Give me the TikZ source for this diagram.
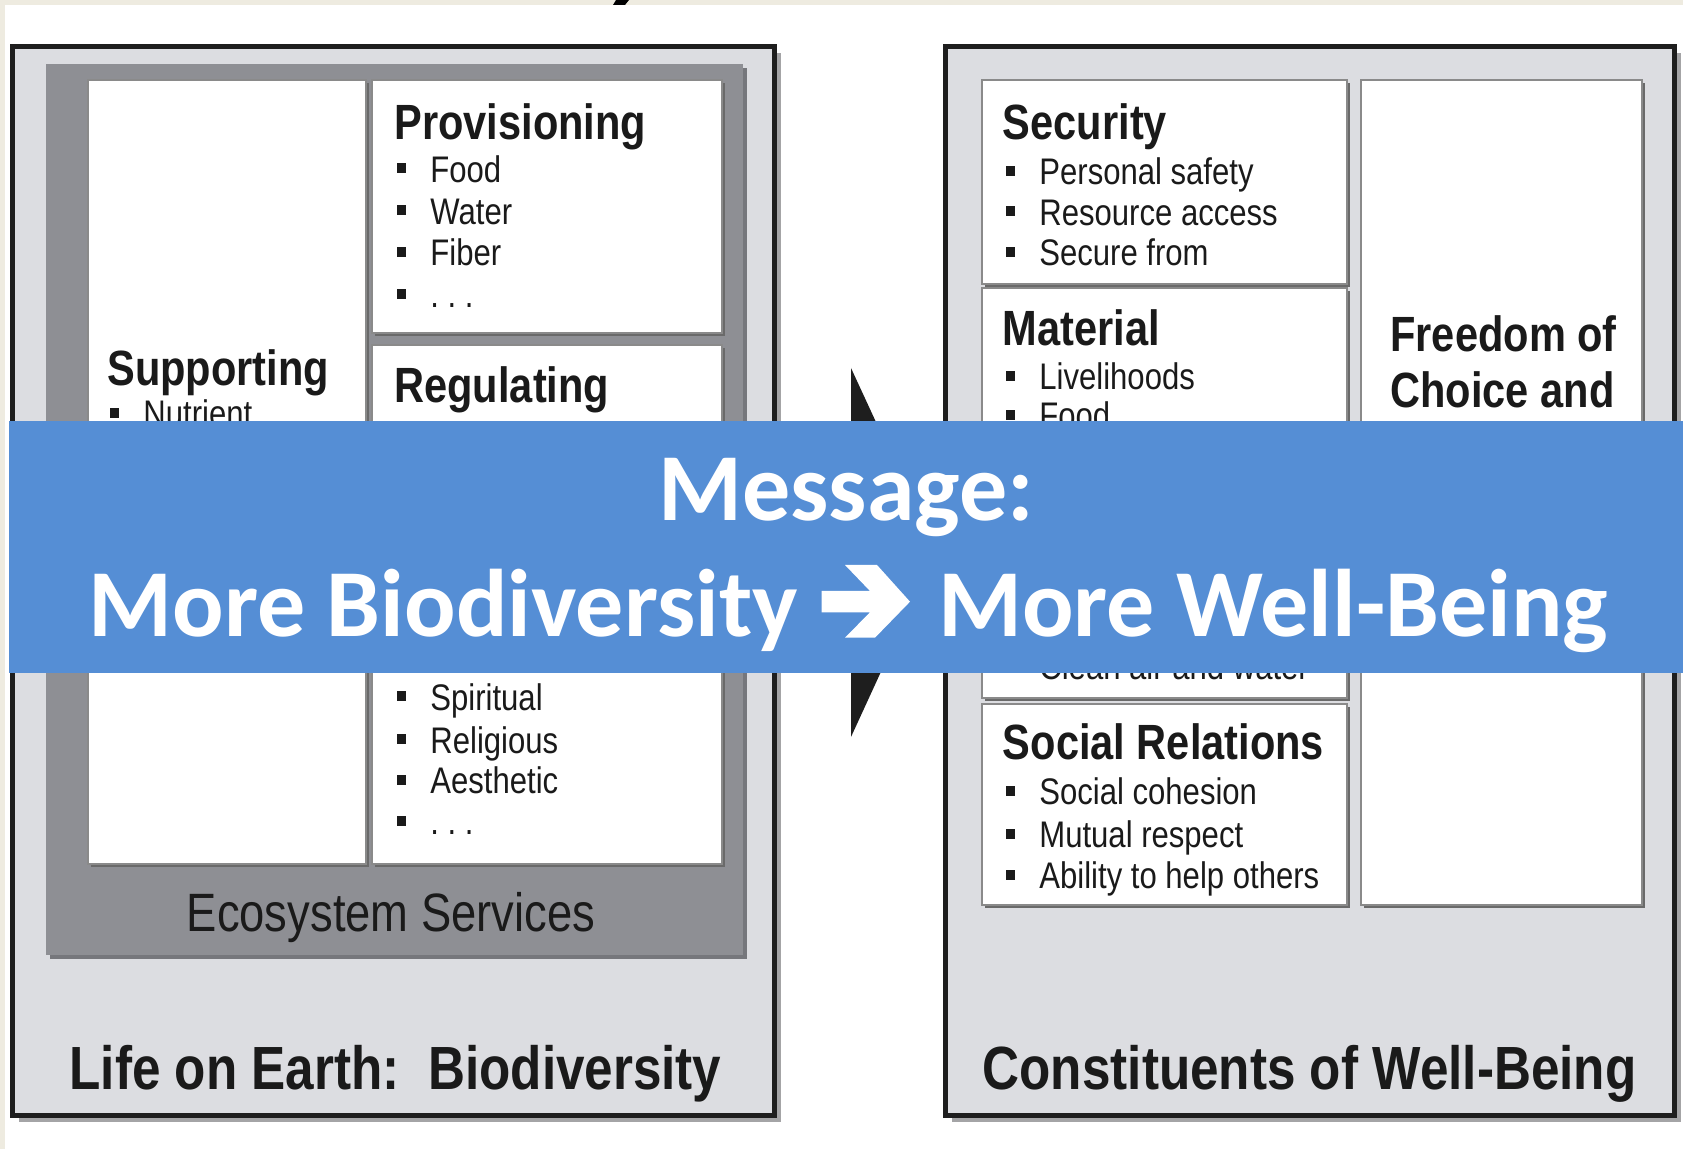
\documentclass[tikz,border=0pt]{standalone}
\usepackage{fontspec}
\setmainfont{Liberation Sans}[FakeStretch=0.84]
\newfontfamily\bannerfont{Carlito}
\definecolor{beige}{HTML}{EEEBE0}
\definecolor{panelc}{HTML}{DCDDE1}
\definecolor{ecoc}{HTML}{8E8F94}
\definecolor{ecoshadow}{HTML}{76777C}
\definecolor{framec}{HTML}{1E1E1E}
\definecolor{fshadow}{HTML}{A4A4A6}
\definecolor{boxline}{HTML}{8A8A8A}
\definecolor{boxshadow}{HTML}{6A6A6A}
\definecolor{txt}{HTML}{1A1A1A}
\definecolor{bannerc}{HTML}{558ED5}
\tikzset{
  frame/.style={draw=framec, line width=2.5pt, fill=panelc},
  wbox/.style={draw=boxline, line width=1pt, fill=white},
  head/.style={anchor=base west, inner sep=0, text=txt, font=\bfseries\fontsize{24.75}{28}\selectfont},
  item/.style={anchor=base west, inner sep=0, text=txt, font=\fontsize{18.5}{22}\selectfont},
  title/.style={anchor=base, inner sep=0, text=txt, font=\bfseries\fontsize{30.5}{34}\selectfont},
  bannertext/.style={inner sep=0, text=white, font=\bannerfont\bfseries\fontsize{48}{52}\selectfont}
}
\newcommand{\bitem}[4]{%
  \fill[txt] ({#2-33.5},{#3-19}) rectangle ++(9,10);
  \node[item] (#1) at (#2,#3) {#4};}
\newcommand{\wboxat}[4]{%
  \fill[boxshadow] ({#1+3},{#2+3}) rectangle ({#3+3},{#4+3});
  \draw[wbox] (#1,#2) rectangle (#3,#4);}
\begin{document}
\begin{tikzpicture}[x=0.5pt,y=-0.5pt]
\useasboundingbox (0,0) rectangle (1683,1149);
\fill[white] (0,0) rectangle (1683,1149);
\fill[beige] (0,0) rectangle (1683,5);
\fill[beige] (0,0) rectangle (5,1149);
\fill[black] (613,5) -- (616,0) -- (629,0) -- (625,5) -- cycle;

% ---------------- left panel ----------------
\fill[fshadow] (19,53) rectangle (781,1122);
\draw[frame] (12.5,46.5) rectangle (774.5,1115.5);
\fill[ecoshadow] (50,68) rectangle (747,959);
\fill[ecoc] (46,64) rectangle (743,955);
\wboxat{88}{80}{366}{864}
\wboxat{372}{80}{722}{333}
\wboxat{372}{345}{722}{600}
\wboxat{372}{612}{722}{864}

\node[head] (sup) at (107,386) {Supporting};
\bitem{nut}{143}{427}{Nutrient}

\node[head] (prov) at (394,140) {Provisioning};
\bitem{food}{430}{182.5}{Food}
\bitem{water}{430}{224.3}{Water}
\bitem{fiber}{430}{266}{Fiber}
\bitem{pdots}{430}{308}{.\ .\ .}

\node[head] (reg) at (394,402.5) {Regulating};

\bitem{spir}{430}{710.5}{Spiritual}
\bitem{relig}{430}{753.5}{Religious}
\bitem{aest}{430}{794}{Aesthetic}
\bitem{cdots}{430}{835}{.\ .\ .}

\node[anchor=base, inner sep=0, text=txt, font=\fontsize{27}{30}\selectfont] (eco) at (391,932) {Ecosystem Services};
\node[title] (life) at (395.5,1089) {Life on Earth:~~Biodiversity};

% ---------------- arrow ----------------
\fill[framec] (851,368) -- (936,552) -- (851,737) -- cycle;

% ---------------- right panel ----------------
\fill[fshadow] (952,53) rectangle (1681,1122);
\draw[frame] (945.5,46.5) rectangle (1674.5,1115.5);
\wboxat{982}{80}{1347}{284}
\wboxat{982}{288}{1347}{480}
\wboxat{982}{490}{1347}{698}
\wboxat{982}{704}{1347}{905}
\wboxat{1361}{80}{1642}{905}

\node[head] (sec) at (1002.5,139.5) {Security};
\bitem{pers}{1039}{184.6}{Personal safety}
\bitem{res}{1039}{225.4}{Resource access}
\bitem{secf}{1039}{266}{Secure from}

\node[head] (mat) at (1002.5,345.6) {Material};
\bitem{live}{1039}{389.6}{Livelihoods}
\bitem{mfood}{1039}{429}{Food}

\bitem{clean}{1039}{680}{Clean air and water}

\node[head] (soc) at (1002.5,760) {Social Relations};
\bitem{coh}{1039}{805}{Social cohesion}
\bitem{mut}{1039}{848}{Mutual respect}
\bitem{abil}{1039}{888.7}{Ability to help others}

\node[head] (free1) at (1390,352) {Freedom of};
\node[head] (free2) at (1390,408) {Choice and};

\node[title] (const) at (1309.5,1089) {Constituents of Well-Being};

% ---------------- banner ----------------
\fill[bannerc] (9,421) rectangle (1683,673);
\node[bannertext, anchor=base] (msg) at (846,520.5) {Message:};
\node[bannertext, anchor=base east] (msgL) at (798,636.5) {More Biodiversity};
\node[bannertext, anchor=base west] (msgR) at (938,636.5) {More Well-Being};
\fill[white] (821.7,591) -- (870,591) -- (845,565) -- (877,565) -- (910,601.7)
  -- (875,637.7) -- (845,637.7) -- (870,612.3) -- (821.7,612.3) -- cycle;
\end{tikzpicture}
\end{document}
